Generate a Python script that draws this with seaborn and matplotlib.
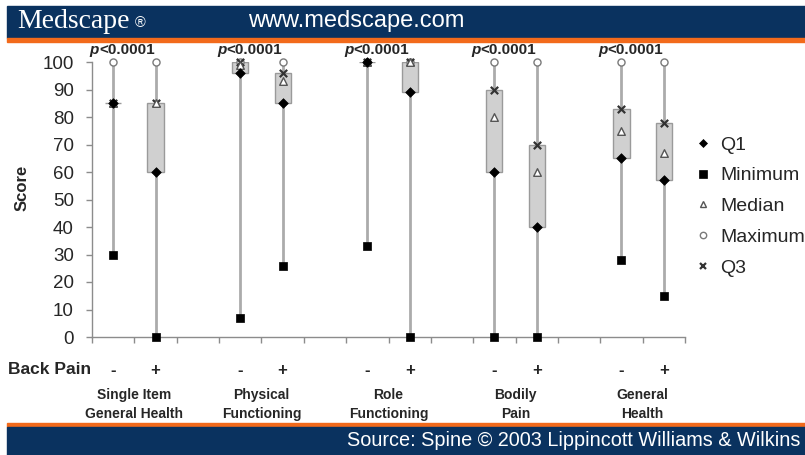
import numpy as np
import pandas as pd
import seaborn as sns
import matplotlib.pyplot as plt
import matplotlib.transforms as mtransforms
from matplotlib.patches import Rectangle
from matplotlib.lines import Line2D

groups = ["Single Item\nGeneral Health", "Physical\nFunctioning", "Role\nFunctioning",
          "Bodily\nPain", "General\nHealth"]
back_pain = ["-", "+"]
p_values = ["<0.0001"] * 5
minimum = [30, 0, 7, 26, 33, 0, 0, 0, 28, 15]
q1 = [85, 60, 96, 85, 100, 89, 60, 40, 65, 57]
median = [85, 85, 99, 93, 100, 100, 80, 60, 75, 67]
q3 = [85, 85, 100, 96, 100, 100, 90, 70, 83, 78]
maximum = [100] * 10
y_ticks = list(range(0, 101, 10))

# two slots per group and one empty slot between groups
pos = [3 * g + j for g in range(len(groups)) for j in range(len(back_pain))]
df = pd.DataFrame({"pos": pos, "Minimum": minimum, "Q1": q1, "Median": median,
                   "Q3": q3, "Maximum": maximum})

sns.set_theme(style="ticks")
plt.rcParams["font.family"] = ["Liberation Sans", "DejaVu Sans"]

W, H = 805, 455
fig = plt.figure(figsize=(W / 100, H / 100), dpi=100)
ax = fig.add_axes([92 / W, 1 - 337 / H, 593 / W, 275 / H])

navy = "#0a325f"
orange = "#f26a1b"
axis_grey = "#8c8c8c"

# whiskers and boxes
ax.vlines(df["pos"], df["Minimum"], df["Maximum"], color="#ababab", lw=2, zorder=1)
ax.bar(df["pos"], df["Q3"] - df["Q1"], bottom=df["Q1"], width=0.38,
       color="#d0d0d0", edgecolor="#9a9a9a", linewidth=1, zorder=2)

marker_styles = {
    "Maximum": dict(marker="o", s=26, facecolor="white", edgecolor="#7a7a7a", linewidth=1),
    "Q3": dict(marker="x", s=28, color="#333333", edgecolor="#333333", linewidth=1.6),
    "Median": dict(marker="^", s=30, facecolor="white", edgecolor="#555555", linewidth=1),
    "Q1": dict(marker="D", s=24, color="black", edgecolor="black", linewidth=0.5),
    "Minimum": dict(marker="s", s=40, color="black", edgecolor="black", linewidth=0.5),
}
for stat, style in marker_styles.items():
    sns.scatterplot(data=df, x="pos", y=stat, ax=ax, clip_on=False, zorder=3,
                    legend=False, **style)

ax.set_xlim(-0.5, 3 * len(groups) - 1.5)
ax.set_ylim(0, 100)
ax.set_xticks(np.arange(-0.5, 3 * len(groups) - 1, 1))
ax.set_xticklabels([])
ax.set_yticks(y_ticks)
ax.set_yticklabels([str(t) for t in y_ticks], fontsize=13.5)
ax.set_xlabel("")
ax.set_ylabel("")
ax.tick_params(axis="both", direction="out", length=4, width=1, color=axis_grey, pad=9)
sns.despine(ax=ax)
for side in ["left", "bottom"]:
    ax.spines[side].set_color(axis_grey)
    ax.spines[side].set_linewidth(1)

trans = mtransforms.blended_transform_factory(ax.transData, ax.transAxes)

for g, name in enumerate(groups):
    x0 = 3 * g
    ax.text(x0 - 0.33, 104.3, "p", ha="right", va="center", fontsize=11,
            fontweight="bold", fontstyle="italic", clip_on=False)
    ax.text(x0 - 0.33, 104.3, p_values[g], ha="left", va="center", fontsize=11,
            fontweight="bold", clip_on=False)
    for j, sign in enumerate(back_pain):
        ax.text(x0 + j, -0.12, sign, transform=trans, ha="center", va="center",
                fontsize=12, fontweight="bold")
    ax.text(x0 + 0.5, -0.246, name, transform=trans, ha="center", va="center",
            fontsize=10, fontweight="bold", linespacing=1.45)

fig.text(8 / W, 1 - 370 / H, "Back Pain", ha="left", va="center", fontsize=12.5,
         fontweight="bold")
fig.text(22 / W, 1 - 188 / H, "Score", ha="center", va="center", rotation=90,
         fontsize=12, fontweight="bold")

legend_order = ["Q1", "Minimum", "Median", "Maximum", "Q3"]
handles = []
for stat in legend_order:
    st = marker_styles[stat]
    handles.append(Line2D([], [], ls="none", marker=st["marker"],
                          markersize=np.sqrt(st["s"]) * 0.9,
                          markerfacecolor=st.get("facecolor", st.get("color")),
                          markeredgecolor=st["edgecolor"],
                          markeredgewidth=st["linewidth"]))
ax.legend(handles, legend_order, loc="upper left", bbox_to_anchor=(695 / W, 1 - 136 / H),
          bbox_transform=fig.transFigure, frameon=False, fontsize=14,
          handlelength=0.8, handletextpad=0.5, labelspacing=0.68,
          borderaxespad=0, borderpad=0)

# banners
fig.patches.append(Rectangle((7 / W, 1 - 38 / H), 1, 32 / H, transform=fig.transFigure,
                             color=navy, zorder=0))
fig.patches.append(Rectangle((7 / W, 1 - 42 / H), 1, 4 / H, transform=fig.transFigure,
                             color=orange, zorder=0))
fig.patches.append(Rectangle((7 / W, 1 - 427 / H), 1, 4 / H, transform=fig.transFigure,
                             color=orange, zorder=0))
fig.patches.append(Rectangle((7 / W, 0), 1, 28 / H, transform=fig.transFigure,
                             color=navy, zorder=0))
fig.text(17 / W, 1 - 21 / H, "Medscape", ha="left", va="center", color="white",
         fontsize=20, family=["Liberation Serif", "DejaVu Serif"])
fig.text(135 / W, 1 - 23 / H, "®", ha="left", va="center", color="white", fontsize=10.5)
fig.text(248 / W, 1 - 21 / H, "www.medscape.com", ha="left", va="center",
         color="white", fontsize=17)
fig.text(800 / W, 1 - 441 / H, "Source: Spine © 2003 Lippincott Williams & Wilkins",
         ha="right", va="center", color="white", fontsize=14.3)

fig.savefig("out.png", dpi=100)
